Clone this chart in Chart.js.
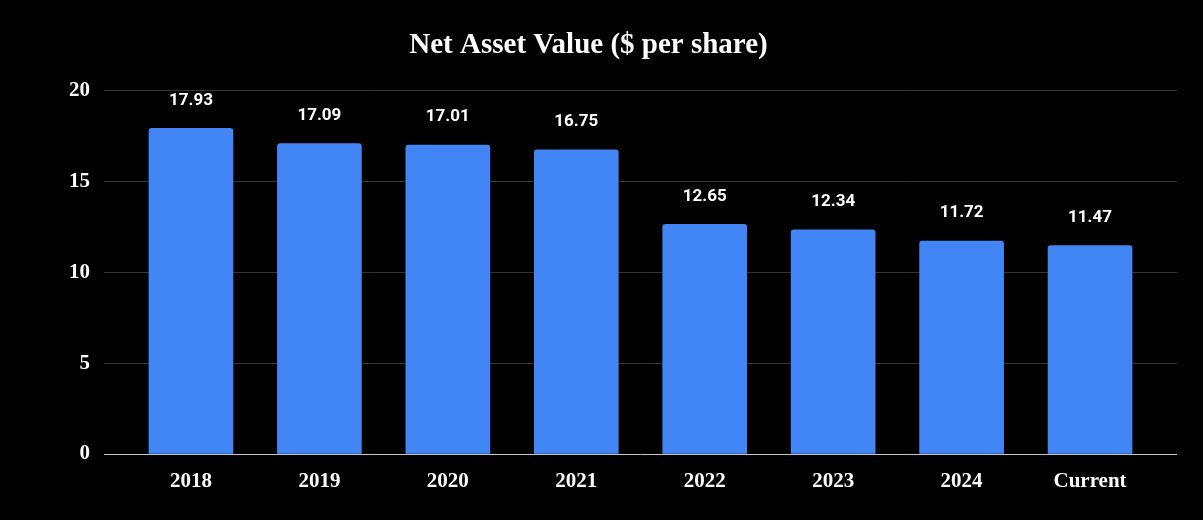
<!DOCTYPE html>
<html>
<head>
<meta charset="utf-8">
<script src="https://cdn.jsdelivr.net/npm/chart.js@4"></script>
<style>
html,body{margin:0;padding:0;background:#000;}
#wrap{width:1203px;height:520px;position:relative;}
</style>
</head>
<body>
<div id="wrap"><canvas id="c"></canvas></div>
<script>
const categories = ["2018", "2019", "2020", "2021", "2022", "2023", "2024", "Current"];
const navValues = [17.93, 17.09, 17.01, 16.75, 12.65, 12.34, 11.72, 11.47];
const yTicks = [0, 5, 10, 15, 20];
const titleText = "Net Asset Value ($ per share)";

const points = navValues.map((v, i) => ({ x: i, y: v }));

const bgPlugin = {
  id: 'bg',
  beforeDraw(chart) {
    const ctx = chart.ctx;
    ctx.save();
    ctx.fillStyle = '#000';
    ctx.fillRect(0, 0, chart.width, chart.height);
    ctx.restore();
  }
};

const labelPlugin = {
  id: 'barLabels',
  afterDatasetsDraw(chart) {
    const ctx = chart.ctx;
    const meta = chart.getDatasetMeta(0);
    ctx.save();
    ctx.fillStyle = '#fff';
    ctx.font = 'bold 17px Roboto, "Noto Sans", sans-serif';
    ctx.textAlign = 'center';
    ctx.textBaseline = 'middle';
    meta.data.forEach((el, i) => {
      ctx.fillText(navValues[i].toFixed(2), el.x, el.y - 28);
    });
    ctx.restore();
  }
};

new Chart(document.getElementById('c'), {
  type: 'bar',
  data: {
    datasets: [{
      data: points,
      backgroundColor: '#4285F4',
      barThickness: 84,
      borderRadius: { topLeft: 3, topRight: 3 },
      borderSkipped: 'bottom'
    }]
  },
  options: {
    responsive: true,
    maintainAspectRatio: false,
    animation: false,
    layout: { padding: { left: 0, right: 26, top: 0, bottom: 0 } },
    plugins: {
      legend: { display: false },
      tooltip: { enabled: false },
      title: {
        display: true,
        text: titleText,
        color: '#fff',
        font: { family: '"Liberation Serif", "DejaVu Serif", serif', size: 29, weight: 'bold' },
        padding: { top: 28, bottom: 28 }
      }
    },
    scales: {
      x: {
        type: 'linear',
        offset: false,
        min: -0.677,
        max: 7.677,
        grid: { display: false, drawTicks: false },
        border: { display: false },
        ticks: {
          stepSize: 1,
          includeBounds: false,
          autoSkip: false,
          maxRotation: 0,
          padding: 15,
          color: '#fff',
          font: { family: '"Liberation Serif", "DejaVu Serif", serif', size: 21, weight: 'bold' },
          callback: (v) => (Number.isInteger(v) && categories[v] !== undefined) ? categories[v] : ''
        },
        afterFit(scale) { scale.height = 66; }
      },
      y: {
        min: yTicks[0],
        max: yTicks[yTicks.length - 1],
        afterBuildTicks(scale) { scale.ticks = yTicks.map(v => ({ value: v })); },
        grid: {
          drawTicks: false,
          color: (ctx) => ctx.tick && ctx.tick.value === 0 ? '#c8c8c8' : '#333333',
          lineWidth: 1
        },
        border: { display: false },
        ticks: {
          padding: 14,
          color: '#fff',
          font: { family: '"Liberation Serif", "DejaVu Serif", serif', size: 21, weight: 'bold' }
        },
        afterFit(scale) { scale.width = 104; }
      }
    }
  },
  plugins: [bgPlugin, labelPlugin]
});
</script>
</body>
</html>
